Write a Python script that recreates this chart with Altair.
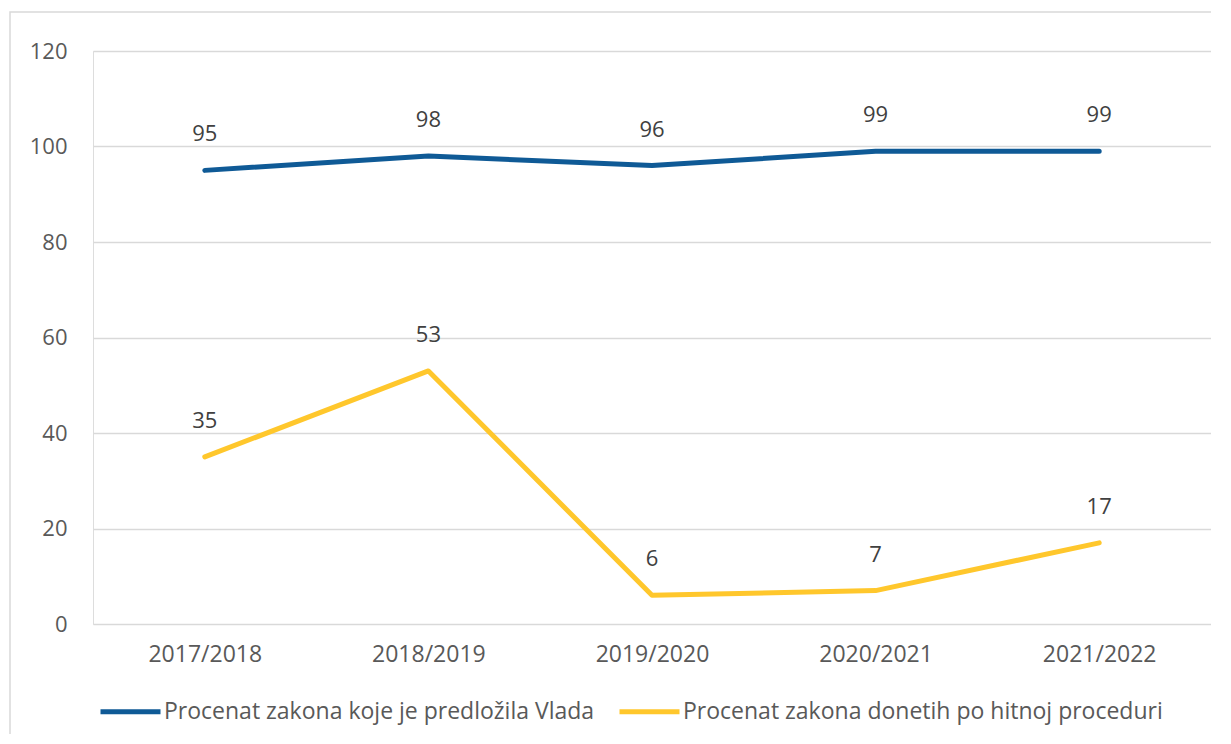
import altair as alt
import pandas as pd

years = ["2017/2018", "2018/2019", "2019/2020", "2020/2021", "2021/2022"]
vlada = [95, 98, 96, 99, 99]
hitno = [35, 53, 6, 7, 17]
series_names = ["Procenat zakona koje je predložila Vlada",
                "Procenat zakona donetih po hitnoj proceduri"]
colors = ["#0F5A96", "#FFC72C"]

rows = []
for y, v in zip(years, vlada):
    rows.append({"godina": y, "vrednost": v, "serija": series_names[0]})
for y, v in zip(years, hitno):
    rows.append({"godina": y, "vrednost": v, "serija": series_names[1]})
df = pd.DataFrame(rows)

FONT = "Open Sans"
TXT = "#595959"
FS = 22

x = alt.X("godina:N", sort=years, title=None,
          scale=alt.Scale(type="point", padding=0.5),
          axis=alt.Axis(labelAngle=0, labelFontSize=23, labelColor=TXT, labelFont=FONT,
                        ticks=False, domain=False, grid=False, labelPadding=19))
y = alt.Y("vrednost:Q", title=None,
          scale=alt.Scale(domain=[0, 120], nice=False),
          axis=alt.Axis(values=[0, 20, 40, 60, 80, 100, 120], labelFontSize=FS, labelColor=TXT,
                        labelFont=FONT, ticks=False, domain=False, gridColor="#d9d9d9",
                        gridWidth=1.5, labelPadding=26))
color = alt.Color("serija:N", sort=series_names,
                  scale=alt.Scale(domain=series_names, range=colors),
                  legend=alt.Legend(title=None, orient="none", legendX=5, legendY=628,
                                    direction="horizontal", columns=2, symbolType="stroke",
                                    symbolSize=3600, symbolStrokeWidth=5,
                                    labelFontSize=23, labelFont=FONT, labelColor=TXT,
                                    labelOffset=1, columnPadding=14, labelLimit=700))

border = alt.Chart(pd.DataFrame({"a": [0]})).mark_rect(
    fill=None, stroke="#d9d9d9", strokeWidth=1.5, clip=False
).encode(x=alt.value(-83), x2=alt.value(1160), y=alt.value(-39), y2=alt.value(760))

lines = alt.Chart(df).mark_line(strokeWidth=5, strokeCap="round", strokeJoin="round").encode(
    x=x, y=y, color=color)

labels = alt.Chart(df).mark_text(fontSize=FS, font=FONT, color="#404040", dy=-36,
                                 baseline="middle").encode(
    x=alt.X("godina:N", sort=years, scale=alt.Scale(type="point", padding=0.5)),
    y=alt.Y("vrednost:Q"),
    text=alt.Text("vrednost:Q"))

chart = alt.layer(border, lines, labels).properties(
    width=1118, height=573,
    autosize=alt.AutoSizeParams(type="none"),
    padding={"left": 85, "top": 43, "right": 0, "bottom": 110},
).configure_view(strokeWidth=0).configure(background="white")

chart.save("out.html", embed_options={"renderer": "svg", "actions": False})
